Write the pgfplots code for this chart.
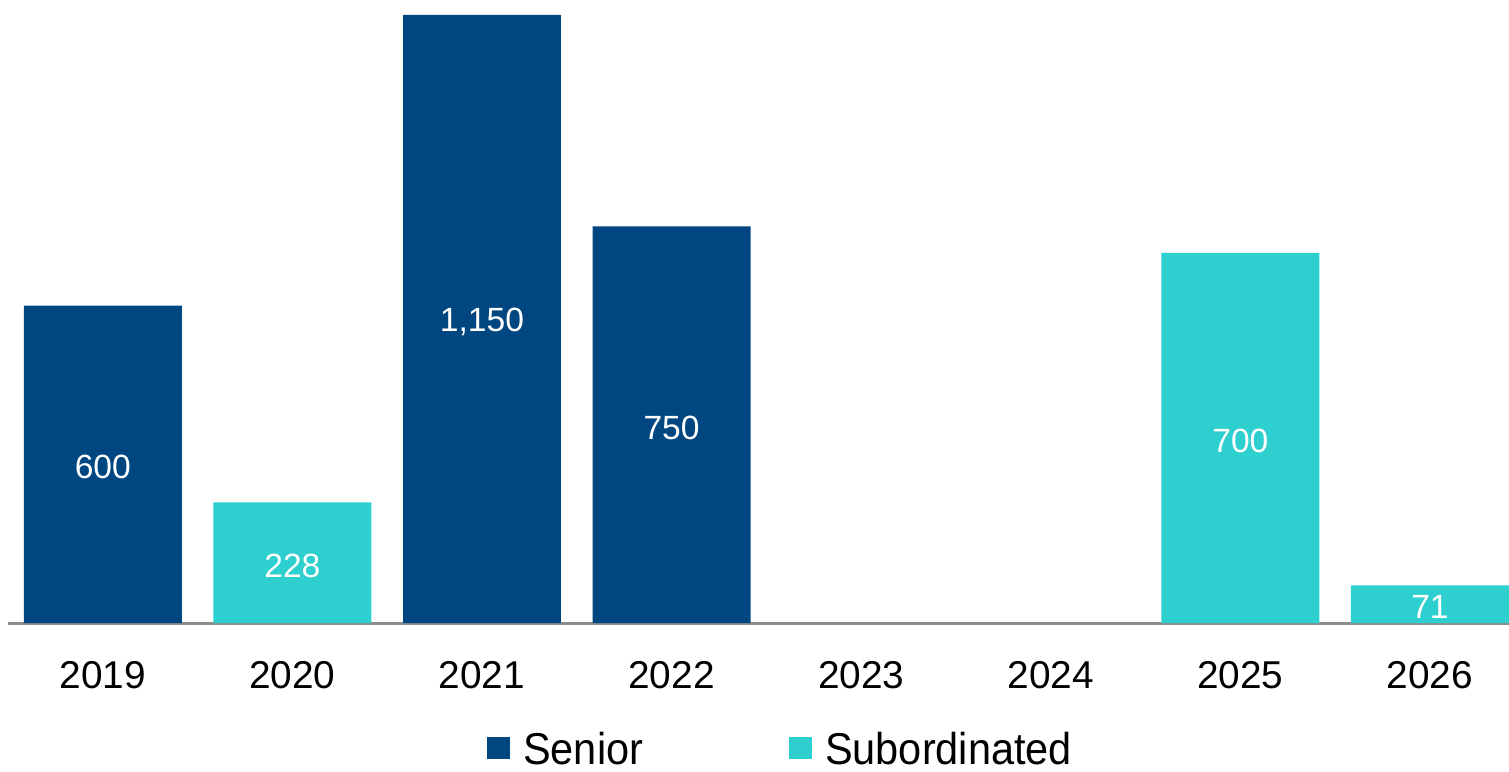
\documentclass[border=0pt]{standalone}
\usepackage{pgfplots}
\pgfplotsset{compat=1.18}
\usepackage{fontspec}
\setmainfont{Liberation Sans}
\newfontfamily\legfont[FakeStretch=0.93]{Liberation Sans}
\definecolor{senior}{RGB}{0,70,128}
\definecolor{subord}{RGB}{46,207,207}
\definecolor{axgray}{RGB}{140,140,140}
\begin{document}
\begin{tikzpicture}
\begin{axis}[
  scale only axis,
  width=750.5pt, height=311.5pt,
  xmin=-0.5, xmax=7.417,
  ymin=0, ymax=1178,
  axis x line*=bottom,
  axis y line=none,
  x axis line style={draw=axgray, line width=1.5pt, -},
  xtick={0,...,7},
  xticklabels={2019,2020,2021,2022,2023,2024,2025,2026},
  major tick length=0pt,
  xticklabel style={font=\fontsize{19.4}{23}\selectfont, anchor=center, yshift=-26pt},
  ybar, bar width=0.833,
  /pgf/bar shift=0pt,
  /pgf/number format/.cd, 1000 sep={,}, assume math mode=true,
  /pgfplots/.cd,
  nodes near coords,
  visualization depends on={rawy \as \rawy},
  every node near coord/.append style={font=\fontsize{16.8}{20}\selectfont, text=white, anchor=center, yshift=-1.5pt, shift={(axis direction cs:0,-\rawy/2)}},
  legend columns=2,
  legend style={draw=none, fill=none, at={(axis cs:3.575,0)}, anchor=center, yshift=-62.5pt,
    font=\legfont\fontsize{22.3}{26}\selectfont,
    /tikz/every even column/.append style={column sep=72pt},
    nodes={inner sep=1pt, text depth=0pt}},
  clip=false,
]
\addplot[fill=senior, draw=none,
  legend image code/.code={\fill[senior] (0pt,-5.5pt) rectangle (11.5pt,5.5pt);}]
  coordinates {(0,600) (2,1150) (3,750)};
\addlegendentry{\hspace{5.5pt}Senior}
\addplot[fill=subord, draw=none,
  legend image code/.code={\fill[subord] (0pt,-5.5pt) rectangle (11.5pt,5.5pt);}]
  coordinates {(1,228) (6,700) (7,71)};
\addlegendentry{\hspace{5.5pt}Subordinated}
\coordinate (bl) at (rel axis cs:0,0);
\coordinate (tr) at (rel axis cs:1,1);
\end{axis}
\pgfresetboundingbox
\path ([shift={(-4pt,-74pt)}]bl) rectangle (tr);
\end{tikzpicture}
\end{document}
